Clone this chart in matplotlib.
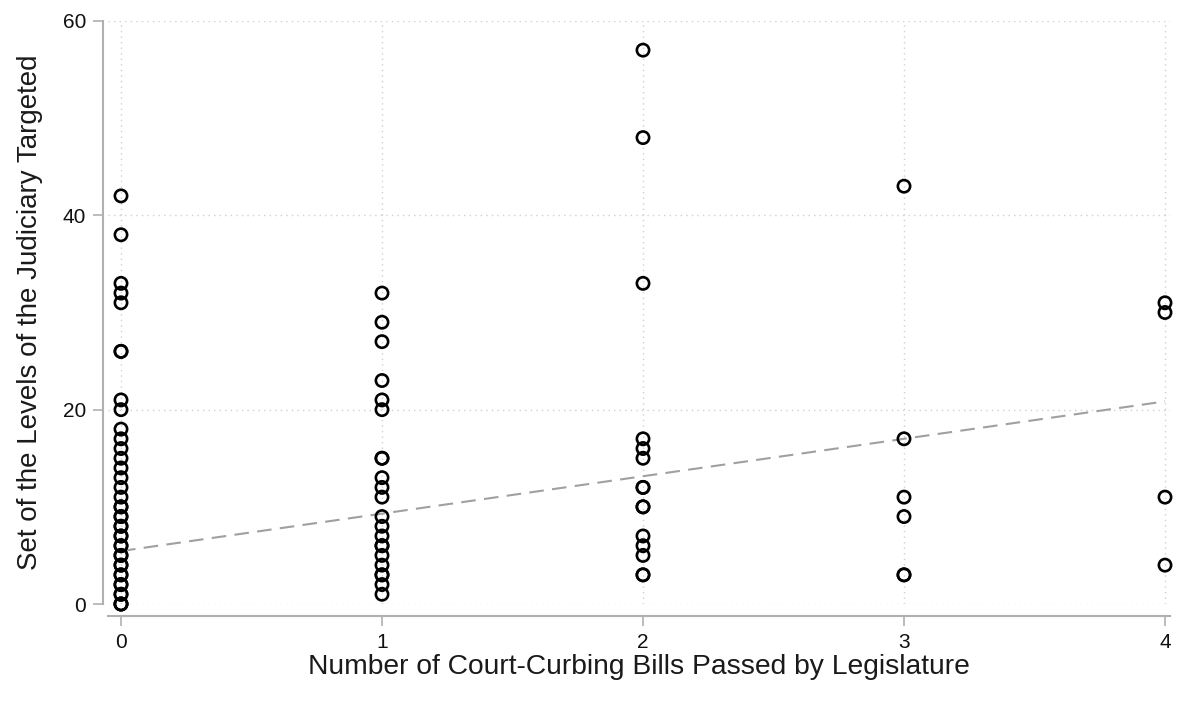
import matplotlib
matplotlib.use("Agg")
from matplotlib import pyplot as plt
import numpy as np

plt.rcParams['font.family'] = ['Liberation Sans', 'DejaVu Sans']

# values, one list per x category
bills_0 = [42, 38, 33, 32, 31, 26, 26, 21, 20, 18, 17, 16, 15, 14, 13, 12, 11, 10, 10,
           9, 9, 8, 8, 7, 7, 6, 6, 5, 5, 4, 4, 3, 3, 2, 2, 1, 1, 0, 0, 0]
bills_1 = [32, 29, 27, 23, 21, 20, 15, 15, 13, 12, 11, 9, 8, 7, 6, 6, 5, 4, 3, 3, 2, 1]
bills_2 = [57, 48, 33, 17, 16, 15, 12, 12, 10, 10, 7, 6, 5, 3, 3]
bills_3 = [43, 17, 11, 9, 3, 3]
bills_4 = [31, 30, 11, 4]
columns = [bills_0, bills_1, bills_2, bills_3, bills_4]

fit_intercept = 5.45
fit_slope = 3.85

xticks = [0, 1, 2, 3, 4]
yticks = [0, 20, 40, 60]

W, H = 1187, 706
fig = plt.figure(figsize=(W / 100, H / 100), dpi=100)
# data area: x=0 at px 121, x=4 at 1165; y=0 at px 604, y=60 at 21
ppu = (1165 - 121) / 4
x_lo, x_hi = -0.05, 4.02
left_px = 121 + x_lo * ppu
right_px = 121 + x_hi * ppu
ax = fig.add_axes([left_px / W, (H - 604) / H, (right_px - left_px) / W, (604 - 21) / H])
ax.set_xlim(x_lo, x_hi)
ax.set_ylim(0, 60)

xs = np.concatenate([[i] * len(c) for i, c in enumerate(columns)])
ys = np.concatenate(columns)
ax.scatter(xs, ys, s=78, facecolors='none', edgecolors='black', linewidths=1.9,
           clip_on=False, zorder=3)

fx = np.array([0, 4])
ax.plot(fx, fit_intercept + fit_slope * fx, color='#a0a0a0', lw=1.5,
        linestyle=(0, (7, 4)), zorder=2)

for v in yticks:
    ax.axhline(v, color='#d0d0d0', lw=1, linestyle=(0, (1, 3)), zorder=1)
for v in xticks:
    ax.axvline(v, color='#d0d0d0', lw=1, linestyle=(0, (1, 3)), zorder=1)

for s in ['top', 'right']:
    ax.spines[s].set_visible(False)
ax.spines['left'].set_position(('outward', 5 * 0.72))
ax.spines['bottom'].set_position(('outward', 12 * 0.72))
ax.spines['left'].set_bounds(0, 60)
ax.spines['left'].set_color('#b0b0b0')
ax.spines['bottom'].set_color('#b0b0b0')
ax.spines['left'].set_linewidth(1.5)
ax.spines['bottom'].set_linewidth(1.5)

ax.set_xticks(xticks)
ax.set_yticks(yticks)
ax.tick_params(axis='both', direction='out', length=7, width=1.2, color='#b0b0b0',
               labelsize=15, labelcolor='#111111', pad=5)

ax.set_xlabel('Number of Court-Curbing Bills Passed by Legislature', fontsize=20.3,
              color='#1a1a1a', labelpad=2)
ax.set_ylabel('Set of the Levels of the Judiciary Targeted', fontsize=20,
              color='#1a1a1a', labelpad=14)

fig.savefig('out.png', dpi=100)
